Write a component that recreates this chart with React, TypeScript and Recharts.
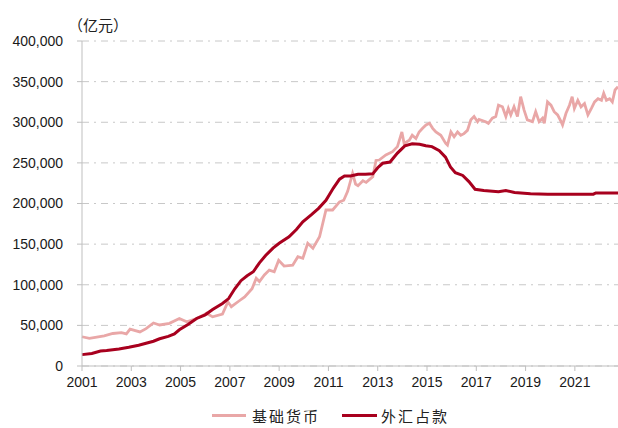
import React from 'react';
import { LineChart, Line, XAxis, YAxis, CartesianGrid, Legend } from 'recharts';

// 外汇占款 (亿元), 按时间点（小数年）读取
const fxDates = [
  2001.0, 2001.4, 2001.75, 2002.0, 2002.5, 2002.9, 2003.3, 2003.6, 2003.9, 2004.15,
  2004.5, 2004.75, 2004.95, 2005.3, 2005.65, 2006.0, 2006.3, 2006.7, 2006.95, 2007.2,
  2007.45, 2007.7, 2007.95, 2008.2, 2008.45, 2008.75, 2009.0, 2009.4, 2009.7, 2009.96,
  2010.3, 2010.6, 2010.9, 2011.2, 2011.45, 2011.65, 2011.9, 2012.2, 2012.5, 2012.8,
  2013.0, 2013.2, 2013.5, 2013.8, 2014.1, 2014.4, 2014.7, 2014.95, 2015.2, 2015.5,
  2015.75, 2015.95, 2016.15, 2016.45, 2016.7, 2016.95, 2017.3, 2017.9, 2018.2, 2018.55,
  2019.2, 2019.9, 2020.5, 2021.2, 2021.75, 2021.85, 2022.75,
];
const fxValues = [
  14000, 15500, 18500, 19000, 21000, 23000, 25500, 28000, 30500, 33500,
  36500, 39500, 44500, 51000, 58500, 63000, 69500, 77000, 83000, 95000,
  105000, 111000, 116000, 127000, 136000, 145000, 151000, 159000, 168000, 177500,
  186000, 194000, 204000, 219000, 230000, 234000, 234000, 236000, 236000, 236500,
  244000, 249500, 251000, 262000, 271000, 273500, 273000, 271000, 270000, 265000,
  257000, 245000, 238000, 234500, 227000, 217500, 216000, 214500, 216000, 213500,
  212000, 211500, 211500, 211500, 211500, 213000, 213000,
];

// 基础货币 (亿元)
const baseDates = [
  2001.0, 2001.3, 2001.6, 2001.9, 2002.25, 2002.6, 2002.8, 2002.95, 2003.35, 2003.6,
  2003.9, 2004.15, 2004.55, 2004.95, 2005.25, 2005.65, 2005.95, 2006.05, 2006.3, 2006.7,
  2006.92, 2007.06, 2007.37, 2007.6, 2007.9, 2008.07, 2008.2, 2008.4, 2008.6, 2008.8,
  2008.98, 2009.2, 2009.55, 2009.76, 2009.96, 2010.16, 2010.37, 2010.64, 2010.9, 2011.17,
  2011.45, 2011.62, 2011.78, 2011.98, 2012.1, 2012.2, 2012.4, 2012.53, 2012.8, 2012.93,
  2013.06, 2013.33, 2013.6, 2013.8, 2013.98, 2014.07, 2014.28, 2014.4, 2014.55, 2014.68,
  2014.82, 2014.96, 2015.1, 2015.23, 2015.36, 2015.56, 2015.76, 2015.83, 2015.97, 2016.1,
  2016.24, 2016.37, 2016.5, 2016.64, 2016.78, 2016.91, 2017.05, 2017.11, 2017.38, 2017.49,
  2017.65, 2017.79, 2017.9, 2018.06, 2018.2, 2018.3, 2018.4, 2018.53, 2018.67, 2018.8,
  2018.94, 2019.07, 2019.28, 2019.41, 2019.55, 2019.69, 2019.76, 2019.89, 2020.03, 2020.16,
  2020.3, 2020.44, 2020.5, 2020.64, 2020.78, 2020.89, 2020.98, 2021.12, 2021.25, 2021.39,
  2021.53, 2021.67, 2021.8, 2021.94, 2022.08, 2022.17, 2022.28, 2022.41, 2022.52, 2022.63,
  2022.75,
];
const baseValues = [
  36000, 34000, 35500, 37000, 40000, 41000, 39500, 45500, 42000, 46000,
  53000, 50500, 52500, 58500, 54500, 58500, 63000, 65000, 60500, 64000,
  79000, 73000, 80000, 85000, 95000, 108000, 104000, 112000, 118000, 116000,
  130000, 123000, 124000, 134500, 132500, 151000, 145000, 159000, 192000, 192000,
  202000, 204000, 215000, 237000, 224000, 222000, 228000, 226000, 233000, 253000,
  253500, 259700, 263800, 270000, 288000, 274000, 278000, 284000, 280000, 288000,
  292500, 296600, 298700, 292500, 288000, 284000, 274000, 272000, 288000, 282000,
  288000, 284000, 286000, 290000, 303000, 307000, 300700, 303500, 300700, 298700,
  305000, 307000, 321000, 319000, 307000, 317000, 309000, 319000, 307000, 331500,
  315000, 303000, 300700, 313000, 300700, 305000, 298700, 325000, 321000, 313000,
  309000, 300700, 296600, 311000, 321000, 331500, 317000, 327000, 319000, 323000,
  309000, 317000, 325000, 329000, 327000, 335600, 327000, 329000, 325000, 339700,
  343800,
];

const yTicks = [0, 50000, 100000, 150000, 200000, 250000, 300000, 350000, 400000];
const xTicks = [2001, 2003, 2005, 2007, 2009, 2011, 2013, 2015, 2017, 2019, 2021];

const baseData = baseDates.map((t, i) => ({ t, v: baseValues[i] }));
const fxData = fxDates.map((t, i) => ({ t, v: fxValues[i] }));

const PINK = '#E9A7A7';
const RED = '#A8001E';
const AXIS = '#BFBFBF';
const labelFont = '"Liberation Sans", Arial, sans-serif';
const cjkFont = '"Noto Sans CJK SC", sans-serif';

const renderLegend = () => (
  <div style={{ display: 'flex', alignItems: 'center', paddingLeft: 212, height: 26, fontFamily: cjkFont, fontSize: 15, color: '#222', letterSpacing: 2 }}>
    <span style={{ width: 34, height: 3, background: PINK, display: 'inline-block' }} />
    <span style={{ marginLeft: 6 }}>基础货币</span>
    <span style={{ width: 35, height: 3, background: RED, display: 'inline-block', marginLeft: 22 }} />
    <span style={{ marginLeft: 4 }}>外汇占款</span>
  </div>
);

export default function App() {
  return (
    <div style={{ position: 'absolute', left: 0, top: 0, width: 618, height: 428, background: '#fff' }}>
      <LineChart width={618} height={428} margin={{ top: 41, right: 0, left: 0, bottom: 0 }}>
        <CartesianGrid vertical={false} stroke="#C8C8C8" strokeDasharray="7 5 2 5" />
        <XAxis
          dataKey="t"
          type="number"
          domain={[2001, 2022.75]}
          ticks={xTicks}
          allowDuplicatedCategory={false}
          height={36}
          stroke={AXIS}
          tickSize={5}
          tickMargin={6}
          tick={{ fill: '#1a1a1a', fontSize: 14, fontFamily: labelFont }}
        />
        <YAxis
          type="number"
          domain={[0, 400000]}
          ticks={yTicks}
          width={82}
          stroke={AXIS}
          tickSize={5}
          tickMargin={14}
          tickFormatter={(v: number) => v.toLocaleString('en-US')}
          tick={{ fill: '#1a1a1a', fontSize: 14, fontFamily: labelFont }}
        />
        <Legend verticalAlign="bottom" height={26} content={renderLegend} wrapperStyle={{ left: 0, width: 618 }} />
        <Line data={baseData} dataKey="v" name="基础货币" stroke={PINK} strokeWidth={2.8} dot={false} isAnimationActive={false} />
        <Line data={fxData} dataKey="v" name="外汇占款" stroke={RED} strokeWidth={3} dot={false} isAnimationActive={false} />
      </LineChart>
      <div style={{ position: 'absolute', left: 68, top: 14, fontFamily: cjkFont, fontSize: 15, color: '#222' }}>（亿元）</div>
    </div>
  );
}
